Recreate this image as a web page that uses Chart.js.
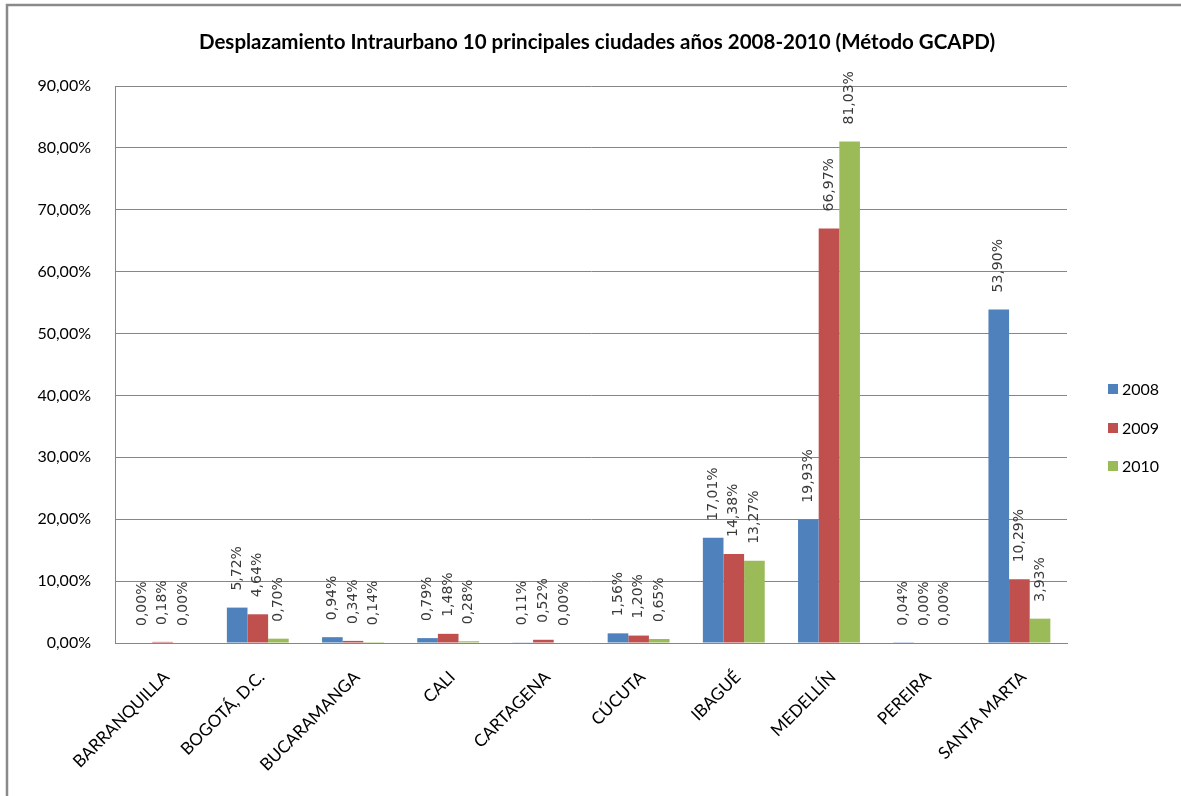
<!DOCTYPE html>
<html><head><meta charset="utf-8">
<script src="https://cdn.jsdelivr.net/npm/chart.js@4.4.0/dist/chart.umd.min.js"></script>
<style>html,body{margin:0;padding:0;background:#fff;} canvas{display:block}</style>
</head><body>
<canvas id="c" width="1181" height="796"></canvas>
<script>
const chartTitle = "Desplazamiento Intraurbano 10 principales ciudades años 2008-2010 (Método GCAPD)";
const categories = ["BARRANQUILLA","BOGOTÁ, D.C.","BUCARAMANGA","CALI","CARTAGENA","CÚCUTA","IBAGUÉ","MEDELLÍN","PEREIRA","SANTA MARTA"];
const seriesNames = ["2008","2009","2010"];
const values2008 = [0.00, 5.72, 0.94, 0.79, 0.11, 1.56, 17.01, 19.93, 0.04, 53.90];
const values2009 = [0.18, 4.64, 0.34, 1.48, 0.52, 1.20, 14.38, 66.97, 0.00, 10.29];
const values2010 = [0.00, 0.70, 0.14, 0.28, 0.00, 0.65, 13.27, 81.03, 0.00, 3.93];
const yMin = 0, yMax = 90, yStep = 10;
const seriesColors = ["#4F81BD", "#C0504D", "#9BBB59"];

const fmt = v => v.toFixed(2).replace('.', ',') + '%';

const decorPlugin = {
  id: 'decor',
  beforeDraw(chart) {
    const ctx = chart.ctx;
    ctx.save();
    ctx.fillStyle = '#fff';
    ctx.fillRect(0, 0, chart.width, chart.height);
    ctx.strokeStyle = '#8a8a8a';
    ctx.lineWidth = 2.5;
    ctx.beginPath();
    ctx.moveTo(7, chart.height);
    ctx.lineTo(7, 5);
    ctx.lineTo(chart.width, 5);
    ctx.stroke();
    // title
    ctx.fillStyle = '#000';
    ctx.font = 'bold 20.5px Lato';
    ctx.textAlign = 'center';
    ctx.textBaseline = 'middle';
    ctx.fillText(chartTitle, 597, 42);
    // legend
    ctx.font = '16px Lato';
    ctx.textAlign = 'left';
    const ly = [389, 428, 466];
    chart.data.datasets.forEach((ds, i) => {
      ctx.fillStyle = ds.backgroundColor;
      ctx.fillRect(1108, ly[i] - 5, 10, 10);
      ctx.fillStyle = '#000';
      ctx.fillText(ds.label, 1122, ly[i] + 1);
    });
    ctx.restore();
  },
  afterDatasetsDraw(chart) {
    const ctx = chart.ctx;
    ctx.save();
    ctx.font = '14px "DejaVu Sans"';
    ctx.fillStyle = '#3a3a3a';
    ctx.textAlign = 'left';
    ctx.textBaseline = 'middle';
    chart.data.datasets.forEach((ds, i) => {
      const meta = chart.getDatasetMeta(i);
      meta.data.forEach((el, j) => {
        ctx.save();
        ctx.translate(el.x, el.y - 17);
        ctx.rotate(-Math.PI / 2);
        ctx.fillText(fmt(ds.data[j]), 0, 0);
        ctx.restore();
      });
    });
    ctx.restore();
  }
};

new Chart(document.getElementById('c'), {
  type: 'bar',
  data: {
    labels: categories,
    datasets: [
      { label: seriesNames[0], data: values2008, backgroundColor: seriesColors[0] },
      { label: seriesNames[1], data: values2009, backgroundColor: seriesColors[1] },
      { label: seriesNames[2], data: values2010, backgroundColor: seriesColors[2] }
    ]
  },
  options: {
    responsive: false,
    devicePixelRatio: 1,
    animation: false,
    layout: { padding: { top: 86, right: 114, left: 0, bottom: 0 } },
    datasets: { bar: { categoryPercentage: 0.65, barPercentage: 1.0, borderWidth: 0 } },
    plugins: { legend: { display: false }, title: { display: false }, tooltip: { enabled: false } },
    scales: {
      x: {
        grid: { display: false, drawTicks: false },
        border: { display: true, color: '#868686', width: 1 },
        ticks: { maxRotation: 45, minRotation: 45, autoSkip: false, color: '#000', font: { family: 'Lato', size: 17 }, padding: 24, labelOffset: 4 },
        afterFit(s) { s.height = 153; }
      },
      y: {
        min: yMin, max: yMax,
        grid: { color: '#868686', drawTicks: false },
        border: { display: true, color: '#868686', width: 1 },
        ticks: { stepSize: yStep, color: '#000', font: { family: 'Lato', size: 16 }, padding: 24, callback: v => fmt(v) },
        afterFit(s) { s.width = 115; }
      }
    }
  },
  plugins: [decorPlugin]
});
</script>
</body></html>
